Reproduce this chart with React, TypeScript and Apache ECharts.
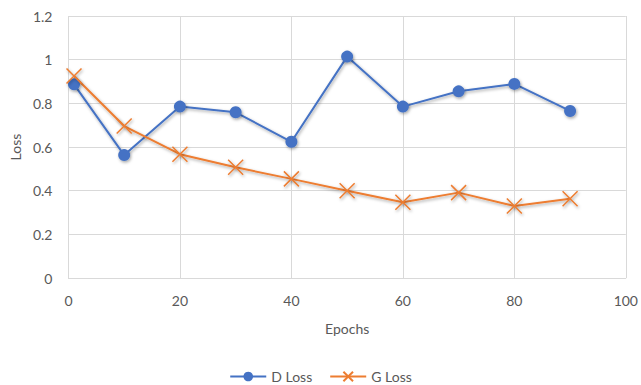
import React, { useEffect, useRef } from "react";
import * as echarts from "echarts";

// Training loss per epoch
const epochs = [1, 10, 20, 30, 40, 50, 60, 70, 80, 90];
const dLoss = [0.887, 0.563, 0.785, 0.759, 0.624, 1.014, 0.785, 0.855, 0.889, 0.765];
const gLoss = [0.925, 0.696, 0.567, 0.507, 0.454, 0.4, 0.347, 0.391, 0.33, 0.363];

const FONT = "Lato, 'Open Sans', sans-serif";
const TEXT = "#595959";
const GRID = "#D9D9D9";
const BLUE = "#4472C4";
const ORANGE = "#ED7D31";

const pairs = (xs: number[], ys: number[]) => xs.map((x, i) => [x, ys[i]]);

export default function App() {
  const ref = useRef<HTMLDivElement>(null);

  useEffect(() => {
    if (!ref.current) return;
    const chart = echarts.init(ref.current, undefined, { renderer: "svg" });
    const shadow = {
      shadowBlur: 3,
      shadowColor: "rgba(0,0,0,0.35)",
      shadowOffsetX: 1,
      shadowOffsetY: 1.5,
    };
    chart.setOption({
      animation: false,
      backgroundColor: "#fff",
      textStyle: { fontFamily: FONT },
      grid: { left: 68, right: 13, top: 16, bottom: 107, containLabel: false },
      xAxis: {
        type: "value",
        min: 0,
        max: 100,
        interval: 20,
        name: "Epochs",
        nameLocation: "middle",
        nameGap: 43,
        nameTextStyle: { color: TEXT, fontSize: 14, fontFamily: FONT },
        axisLine: { show: true, lineStyle: { color: GRID, width: 1 } },
        axisTick: { show: false },
        axisLabel: { color: TEXT, fontSize: 14, margin: 15, fontFamily: FONT },
        splitLine: { show: true, lineStyle: { color: GRID, width: 1 } },
      },
      yAxis: {
        type: "value",
        min: 0,
        max: 1.2,
        interval: 0.2,
        name: "Loss",
        nameLocation: "middle",
        nameGap: 46,
        nameRotate: 90,
        nameTextStyle: { color: TEXT, fontSize: 14, fontFamily: FONT },
        axisLine: { show: false },
        axisTick: { show: false },
        axisLabel: { color: TEXT, fontSize: 14, margin: 16, fontFamily: FONT },
        splitLine: { show: true, lineStyle: { color: GRID, width: 1 } },
      },
      legend: {
        top: 369,
        left: "center",
        padding: 0,
        itemWidth: 36,
        itemHeight: 12,
        itemGap: 17,
        textStyle: { color: TEXT, fontSize: 14, fontFamily: FONT, lineHeight: 15 },
        data: ["D Loss", "G Loss"],
      },
      series: [
        {
          name: "D Loss",
          type: "line",
          data: pairs(epochs, dLoss),
          symbol: "circle",
          symbolSize: 12,
          lineStyle: { color: BLUE, width: 2, ...shadow },
          itemStyle: { color: BLUE, ...shadow },
        },
        {
          name: "G Loss",
          type: "line",
          data: pairs(epochs, gLoss),
          symbol: "path://M0,0L10,10M10,0L0,10",
          symbolSize: 15,
          lineStyle: { color: ORANGE, width: 2, ...shadow },
          itemStyle: { color: ORANGE, borderColor: ORANGE, borderWidth: 1.5, ...shadow },
        },
      ],
    });
    return () => chart.dispose();
  }, []);

  return (
    <div
      ref={ref}
      style={{ position: "fixed", left: 0, top: 0, width: 641, height: 385 }}
    />
  );
}
